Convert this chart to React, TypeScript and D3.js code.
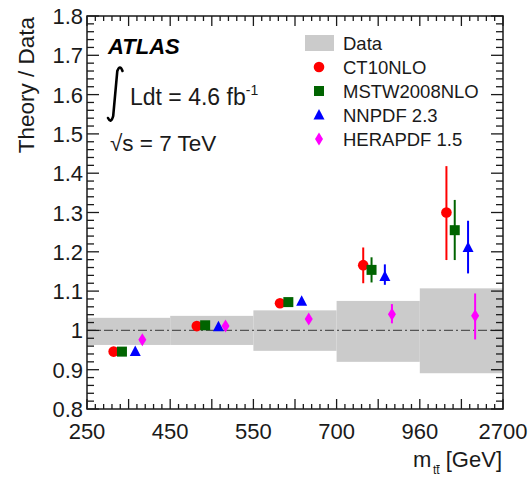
import * as d3 from "d3";

const binLabels = ["250", "450", "550", "700", "960", "2700"];
const yTickLabels = ["0.8", "0.9", "1", "1.1", "1.2", "1.3", "1.4", "1.5", "1.6", "1.7", "1.8"];

// data uncertainty band (relative), per bin
const dataUp = [0.032, 0.037, 0.051, 0.075, 0.107];
const dataDown = [0.037, 0.037, 0.052, 0.080, 0.109];

const seriesNames = ["CT10NLO", "MSTW2008NLO", "NNPDF 2.3", "HERAPDF 1.5"];
const seriesColors = ["#ff0000", "#006400", "#0000ff", "#ff00ff"];
const seriesShapes = ["circle", "square", "triangle", "diamond"];
const seriesOffset = [0.32, 0.42, 0.58, 0.665];

const ct10 = [0.946, 1.011, 1.069, 1.166, 1.3];
const ct10Up = [0.004, 0.004, 0.006, 0.045, 0.118];
const ct10Down = [0.004, 0.004, 0.006, 0.046, 0.121];
const mstw = [0.946, 1.013, 1.072, 1.154, 1.255];
const mstwUp = [0.004, 0.004, 0.006, 0.032, 0.077];
const mstwDown = [0.004, 0.004, 0.006, 0.032, 0.076];
const nnpdf = [0.946, 1.009, 1.074, 1.137, 1.211];
const nnpdfUp = [0.004, 0.004, 0.006, 0.031, 0.068];
const nnpdfDown = [0.004, 0.004, 0.006, 0.021, 0.066];
const hera = [0.976, 1.011, 1.029, 1.041, 1.037];
const heraUp = [0.004, 0.004, 0.006, 0.026, 0.057];
const heraDown = [0.004, 0.004, 0.006, 0.023, 0.06];

const values = [ct10, mstw, nnpdf, hera];
const errUp = [ct10Up, mstwUp, nnpdfUp, heraUp];
const errDown = [ct10Down, mstwDown, nnpdfDown, heraDown];

const W = 532;
const H = 478;
const left = 87;
const right = 503;
const top = 16;
const bottom = 409;
const font = "'Liberation Sans', Arial, Helvetica, sans-serif";
const ink = "#1a1a1a";

const Marker = ({ shape, x, y, color }: { shape: string; x: number; y: number; color: string }) => {
  if (shape === "circle") return <circle cx={x} cy={y} r={5.3} fill={color} />;
  if (shape === "square") return <rect x={x - 5} y={y - 5} width={10} height={10} fill={color} />;
  if (shape === "triangle")
    return <path d={`M${x},${y - 6}L${x + 5.5},${y + 4.5}L${x - 5.5},${y + 4.5}Z`} fill={color} />;
  return <path d={`M${x},${y - 6.5}L${x + 4},${y}L${x},${y + 6.5}L${x - 4},${y}Z`} fill={color} />;
};

export default function App() {
  const nBins = binLabels.length - 1;
  const x = d3.scaleLinear().domain([0, nBins]).range([left, right]);
  const y = d3.scaleLinear().domain([0.8, 1.8]).range([bottom, top]);

  const xMinor = d3.range(0, nBins * 10 + 1).map((i) => i / 10);
  const yMinor = d3.range(0, 51).map((i) => 0.8 + i * 0.02);

  return (
    <svg
      width={W}
      height={H}
      style={{ position: "absolute", left: 0, top: 0, background: "#fff" }}
      fontFamily={font}
    >
      {/* data band */}
      {dataUp.map((u, i) => (
        <rect
          key={"b" + i}
          x={x(i)}
          y={y(1 + u)}
          width={x(i + 1) - x(i)}
          height={y(1 - dataDown[i]) - y(1 + u)}
          fill="#cbcbcb"
        />
      ))}
      <line
        x1={left}
        x2={right}
        y1={y(1)}
        y2={y(1)}
        stroke="#555"
        strokeWidth={1.2}
        strokeDasharray="9,3,2,3"
      />

      {/* theory points */}
      {values.map((vals, s) => (
        <g key={"s" + s}>
          {vals.map((v, i) => {
            const cx = x(i + seriesOffset[s]);
            return (
              <g key={i}>
                <line
                  x1={cx}
                  x2={cx}
                  y1={y(v + errUp[s][i])}
                  y2={y(v - errDown[s][i])}
                  stroke={seriesColors[s]}
                  strokeWidth={2}
                />
                <Marker shape={seriesShapes[s]} x={cx} y={y(v)} color={seriesColors[s]} />
              </g>
            );
          })}
        </g>
      ))}

      {/* frame and ticks */}
      <rect
        x={left}
        y={top}
        width={right - left}
        height={bottom - top}
        fill="none"
        stroke={ink}
        strokeWidth={1.5}
      />
      {xMinor.map((t, i) => {
        const len = i % 5 === 0 ? 10 : 5;
        return (
          <g key={"xt" + i} stroke={ink} strokeWidth={1.3}>
            <line x1={x(t)} x2={x(t)} y1={bottom} y2={bottom - len} />
            <line x1={x(t)} x2={x(t)} y1={top} y2={top + len} />
          </g>
        );
      })}
      {yMinor.map((t, i) => {
        const len = i % 5 === 0 ? 12 : 7;
        return (
          <g key={"yt" + i} stroke={ink} strokeWidth={1.3}>
            <line x1={left} x2={left + len} y1={y(t)} y2={y(t)} />
            <line x1={right} x2={right - len} y1={y(t)} y2={y(t)} />
          </g>
        );
      })}

      {/* tick labels */}
      {yTickLabels.map((lab) => (
        <text
          key={"yl" + lab}
          x={83}
          y={y(+lab) + 8}
          textAnchor="end"
          fontSize={22}
          fill={ink}
        >
          {lab}
        </text>
      ))}
      {binLabels.map((lab, i) => (
        <text key={"xl" + lab} x={x(i)} y={439} textAnchor="middle" fontSize={22} fill={ink}>
          {lab}
        </text>
      ))}

      {/* axis titles */}
      <text
        transform="translate(34,17) rotate(-90)"
        textAnchor="end"
        fontSize={22.5}
        fill={ink}
      >
        Theory / Data
      </text>
      <text x={413} y={467} fontSize={22} fill={ink}>
        m
      </text>
      <text x={433} y={474} fontSize={12} fill={ink}>
        tt
      </text>
      <line x1={436.3} x2={439.8} y1={465.5} y2={465.5} stroke={ink} strokeWidth={1} />
      <text x={502} y={467} textAnchor="end" fontSize={22} fill={ink}>
        [GeV]
      </text>

      {/* ATLAS label */}
      <text x={108} y={54} fontSize={22} fontWeight="bold" fontStyle="italic" fill="#000">
        ATLAS
      </text>
      <path
        d="M122.5,71 Q120,64 117.3,71 L113.2,116 Q111,124 108,118"
        fill="none"
        stroke="#000"
        strokeWidth={2.6}
        strokeLinecap="round"
      />
      <text x={130} y={105} fontSize={23} fill={ink}>
        Ldt = 4.6 fb
        <tspan fontSize={14} dy={-10}>
          -1
        </tspan>
      </text>
      <text x={110} y={151} fontSize={22.5} fill={ink}>
        √s = 7 TeV
      </text>

      {/* legend */}
      <rect x={305} y={35} width={29} height={16} fill="#cbcbcb" />
      <text x={343} y={49.5} fontSize={18.5} fill={ink}>
        Data
      </text>
      {seriesNames.map((name, s) => (
        <g key={"lg" + s}>
          <Marker shape={seriesShapes[s]} x={319} y={67 + s * 24} color={seriesColors[s]} />
          <text x={343} y={73.5 + s * 24} fontSize={18.5} fill={ink}>
            {name}
          </text>
        </g>
      ))}
    </svg>
  );
}
